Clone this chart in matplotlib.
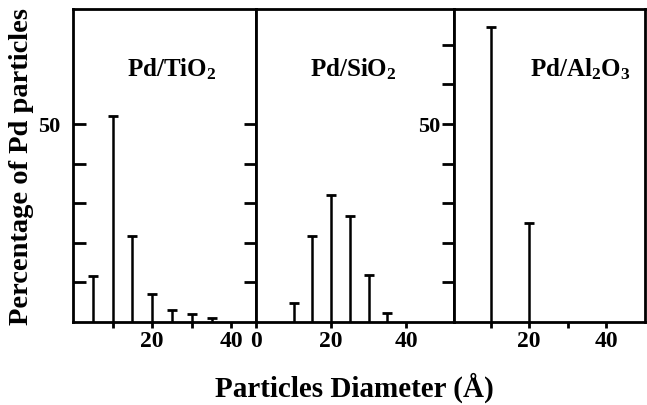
import matplotlib.pyplot as plt

# 입자 크기 (Å) 와 비율 (%)
tio2_size = [5, 10, 15, 20, 25, 30, 35]
tio2_pct = [11.5, 52, 21.6, 7, 3, 2, 1.1]

sio2_size = [10, 15, 20, 25, 30, 35]
sio2_pct = [4.7, 21.7, 32, 26.8, 11.8, 2.4]

al2o3_size = [10, 20]
al2o3_pct = [74.5, 25]

titles = ['Pd/TiO$_2$', 'Pd/SiO$_2$', 'Pd/Al$_2$O$_3$']
title_x = [0.54, 0.49, 0.66]
xlims = [(0, 46.2), (0, 52.8), (0.5, 50)]
xticklabels = [['', '20', '', '40'], ['0', '20', '40'], ['', '20', '', '40']]
xtick_pos = [[10, 20, 30, 40], [0, 20, 40], [10, 20, 30, 40]]
yticks = [[10, 20, 30, 40, 50], [10, 20, 30, 40, 50], [10, 20, 30, 40, 50, 60, 70]]

plt.rcParams['font.family'] = ['Liberation Serif', 'DejaVu Serif']
plt.rcParams['font.weight'] = 'bold'
plt.rcParams['mathtext.fontset'] = 'custom'
plt.rcParams['mathtext.rm'] = 'Liberation Serif:bold'
plt.rcParams['mathtext.it'] = 'Liberation Serif:bold'

fig = plt.figure(figsize=(6.47, 4.06), dpi=100)
bottom, height = 0.2044, 0.7709
lefts = [0.1128, 0.3957, 0.7017]
widths = [0.2829, 0.3060, 0.2952]

data = [(tio2_size, tio2_pct), (sio2_size, sio2_pct), (al2o3_size, al2o3_pct)]

for i, (sizes, pcts) in enumerate(data):
    ax = fig.add_axes([lefts[i], bottom, widths[i], height])
    ax.vlines(sizes, 0, pcts, color='black', lw=1.8)
    ax.plot(sizes, pcts, ls='none', marker='_', ms=7, mew=2, color='black')
    ax.set_xlim(*xlims[i])
    ax.set_ylim(0, 79)
    for s in ax.spines.values():
        s.set_linewidth(2)
    ax.set_xticks(xtick_pos[i])
    ax.set_xticklabels(xticklabels[i], fontsize=17, fontweight='bold')
    ax.tick_params(axis='x', direction='out', length=4, width=2, pad=2)
    ax.set_yticks(yticks[i])
    ylab = ['50' if v == 50 else '' for v in yticks[i]]
    if i == 1:
        ylab = [''] * len(yticks[i])
    ax.set_yticklabels(ylab, fontsize=16, fontweight='bold')
    if i == 0:
        ax.tick_params(axis='y', direction='in', length=9, width=2, pad=9)
    else:
        ax.tick_params(axis='y', direction='out', length=9, width=2, pad=1)
    ax.text(title_x[i], 0.81, titles[i], transform=ax.transAxes,
            ha='center', va='center', fontsize=18, fontweight='bold')

fig.text(0.034, 0.59, 'Percentage of Pd particles', rotation=90,
         ha='center', va='center', fontsize=20.5, fontweight='bold')
fig.text(0.547, 0.045, 'Particles Diameter (Å)',
         ha='center', va='center', fontsize=21, fontweight='bold')

plt.savefig('out.png', dpi=100)
